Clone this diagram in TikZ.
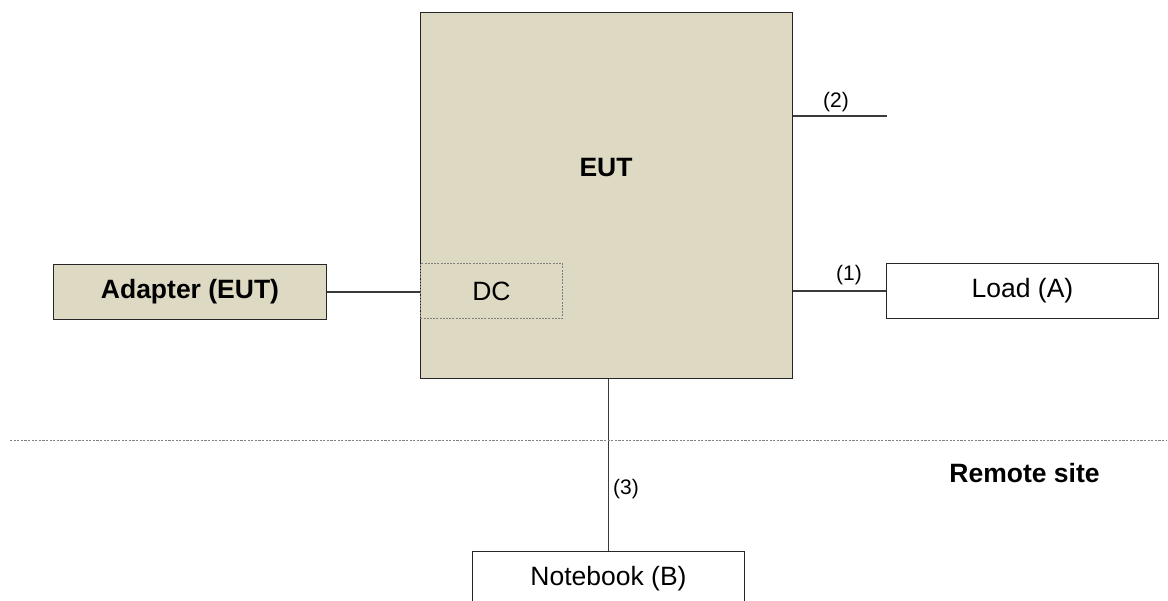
\documentclass[tikz,border=0pt]{standalone}
\usepackage{fontspec}
\setmainfont{Liberation Sans}
\definecolor{tanfill}{HTML}{DDD9C3}
\definecolor{linegray}{HTML}{3A3A3A}
\begin{document}
\begin{tikzpicture}[x=1pt,y=-1pt,
  bigtext/.style={font=\fontsize{26.5}{30}\selectfont},
  smalltext/.style={font=\fontsize{21}{24}\selectfont},
  box/.style={draw=black!85, line width=1pt, inner sep=0pt, bigtext},
  tanbox/.style={box, fill=tanfill},
  whitebox/.style={box, fill=white},
  conn/.style={draw=linegray, line width=1.1pt},
  dcbox/.style={draw=gray, dashed, dash pattern=on 2pt off 1.2pt, line width=0.8pt, inner sep=0pt, bigtext},
  sep/.style={draw=gray, dash pattern=on 2.2pt off 1.4pt, line width=1pt}
]
\clip (0,0) rectangle (1168,601);
\fill[white] (0,0) rectangle (1168,601);

% EUT box
\node[tanbox, minimum width=372, minimum height=366, anchor=north west] (eut) at (420,12) {};
\node[bigtext, font=\fontsize{26.5}{30}\selectfont\bfseries, anchor=base] (euttxt) at (606,177) {EUT};

% DC box
\node[dcbox, minimum width=142, minimum height=55, anchor=north west] (dc) at (420,263) {DC};

% Adapter
\node[tanbox, minimum width=273, minimum height=55, anchor=north west, font=\fontsize{26.5}{30}\selectfont\bfseries] (adapter) at (53,264) {Adapter (EUT)};

% Load
\node[whitebox, minimum width=272, minimum height=55, anchor=north west] (load) at (886,263) {Load (A)};

% Notebook
\node[whitebox, minimum width=272, minimum height=54, anchor=north west] (nb) at (472,551) {Notebook (B)};

% connectors
\draw[conn] (adapter.east) -- (adapter.east -| eut.west);
\draw[conn] (load.west) -- (load.west -| eut.east);
\coordinate (p2) at (887,116);
\draw[conn] (p2 -| eut.east) -- (p2);
\draw[conn] (nb.north) -- (nb.north |- eut.south);

% labels
\node[smalltext, anchor=base] (l1) at (849,281) {(1)};
\node[smalltext, anchor=base] (l2) at (836,108) {(2)};
\node[smalltext, anchor=base] (l3) at (626,494) {(3)};

% separator
\coordinate (sepL) at (10,440.5);
\coordinate (sepR) at (1166,440.5);
\draw[sep] (sepL) -- (sepR);
\node[bigtext, font=\fontsize{26.5}{30}\selectfont\bfseries, anchor=base] (remote) at (1024.5,483) {Remote site};
\end{tikzpicture}
\end{document}
